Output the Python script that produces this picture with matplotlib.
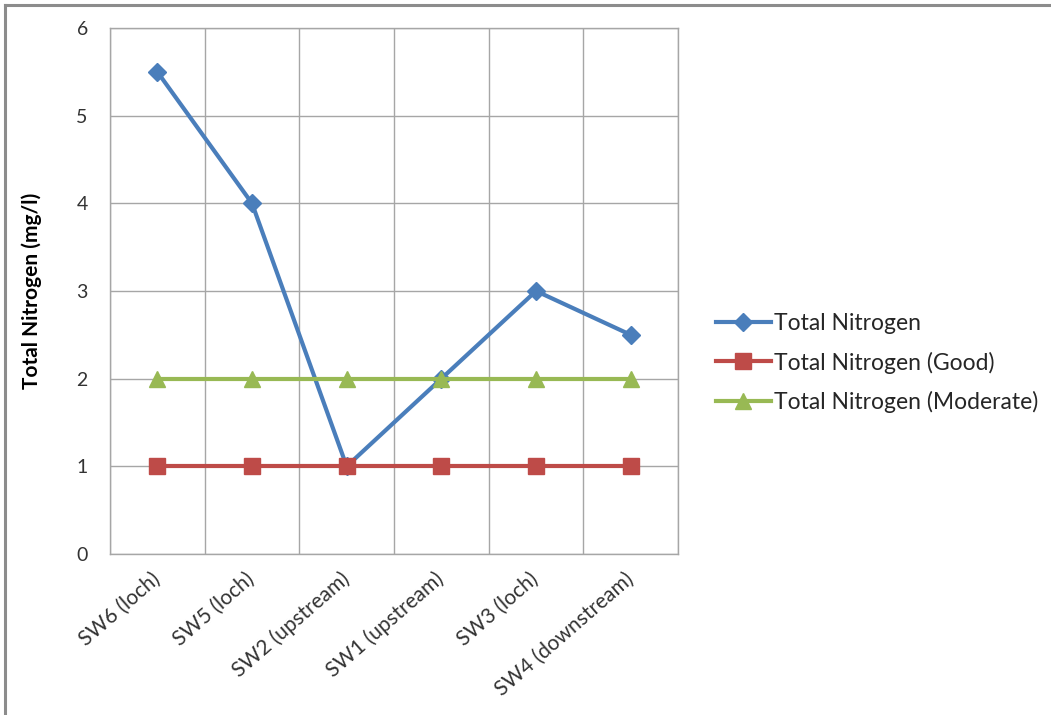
import matplotlib
matplotlib.use("Agg")
import matplotlib.pyplot as plt
from matplotlib.lines import Line2D
import numpy as np

categories = ["SW6 (loch)", "SW5 (loch)", "SW2 (upstream)", "SW1 (upstream)", "SW3 (loch)", "SW4 (downstream)"]
total_n = [5.5, 4.0, 1.0, 2.0, 3.0, 2.5]
good = [1, 1, 1, 1, 1, 1]
moderate = [2, 2, 2, 2, 2, 2]
series_names = ["Total Nitrogen", "Total Nitrogen (Good)", "Total Nitrogen (Moderate)"]

plt.rcParams['font.family'] = ['Lato', 'DejaVu Sans']

fig = plt.figure(figsize=(10.51, 7.15), dpi=100)
ax = fig.add_axes([110/1051, 1-554/715, (678-110)/1051, (554-28)/715])

x = np.arange(len(categories))
ax.plot(x, total_n, color="#4A7EBB", lw=3.0, marker="D", ms=9, label=series_names[0], zorder=3)
ax.plot(x, good, color="#BE4B48", lw=3.0, marker="s", ms=11, label=series_names[1], zorder=4)
ax.plot(x, moderate, color="#98B954", lw=3.0, marker="^", ms=12, label=series_names[2], zorder=5)

ax.set_xlim(-0.5, len(categories) - 0.5)
ax.set_ylim(0, 6)
ax.set_yticks(range(0, 7))
ax.set_xticks(x)
ax.set_xticklabels(categories, rotation=41, ha="right", va="center", rotation_mode="anchor",
                   fontsize=15, color="#333333")
ax.set_xticks(np.arange(-0.5, len(categories)), minor=True)
ax.tick_params(axis="x", which="major", length=0, pad=16)
ax.tick_params(axis="x", which="minor", length=0)
ax.tick_params(axis="y", length=0, pad=16, labelsize=14, labelcolor="#333333")
ax.grid(True, which="minor", axis="x", color="#A6A6A6", lw=1)
ax.grid(True, which="major", axis="y", color="#A6A6A6", lw=1)
ax.grid(False, which="major", axis="x")
ax.set_axisbelow(True)
for s in ax.spines.values():
    s.set_color("#A6A6A6")
    s.set_linewidth(1)

ax.set_ylabel("Total Nitrogen (mg/l)", fontsize=15, fontweight="bold")
ax.yaxis.set_label_coords(-68/568, 0.5)

leg = ax.legend(loc="center left", bbox_to_anchor=(695/1051, 1-363/715), bbox_transform=fig.transFigure,
                frameon=False, fontsize=16.5, handlelength=2.4, labelspacing=0.78, handletextpad=0.15)
for t in leg.get_texts():
    t.set_color("#262626")

# outer chart border (top and left visible)
fig.add_artist(Line2D([5/1051, 1.0], [1-5/715, 1-5/715], transform=fig.transFigure, color="#8C8C8C", lw=2.2))
fig.add_artist(Line2D([5/1051, 5/1051], [0, 1-5/715], transform=fig.transFigure, color="#8C8C8C", lw=2.2))

fig.savefig("out.png", dpi=100)
